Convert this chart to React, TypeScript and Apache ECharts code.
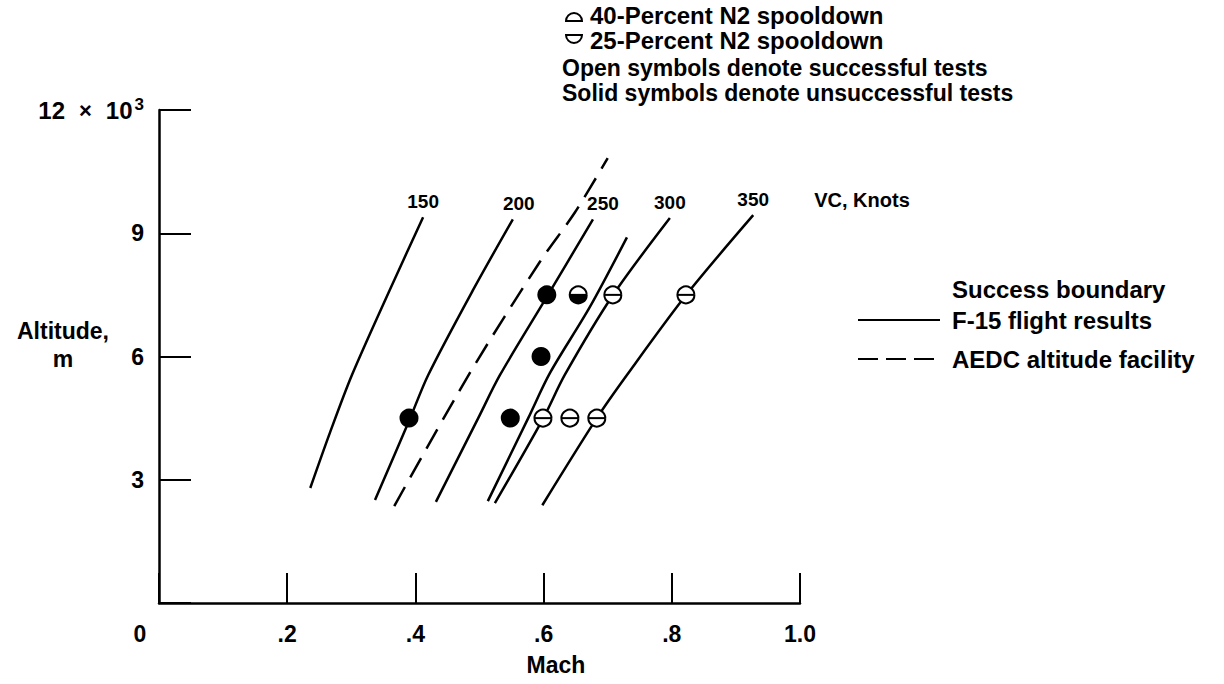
import React, { useEffect, useRef } from "react";
import * as echarts from "echarts";

// ---- data (Mach, altitude in 10^3 m) ----
const machRange = [0, 1.0];
const altRange = [0, 12];
const machInterval = 0.2;
const altInterval = 3;

const vc150 = [[0.236, 2.8], [0.267, 4.16], [0.301, 5.55], [0.36, 7.62], [0.412, 9.39]];
const vc200 = [[0.337, 2.51], [0.39, 4.43], [0.42, 5.55], [0.49, 7.62], [0.552, 9.34]];
const vc250 = [[0.432, 2.46], [0.498, 4.5], [0.532, 5.55], [0.605, 7.45], [0.677, 9.34]];
const vc300 = [[0.524, 2.43], [0.599, 4.48], [0.633, 5.55], [0.708, 7.49], [0.797, 9.37]];
const vc350 = [[0.598, 2.38], [0.683, 4.5], [0.73, 5.55], [0.822, 7.49], [0.927, 9.44]];
const vcNames = ["150", "200", "250", "300", "350"];

const f15Boundary = [[0.513, 2.48], [0.576, 4.5], [0.61, 5.6], [0.672, 7.2], [0.73, 8.9]];
const aedcBoundary = [[0.367, 2.36], [0.485, 5.6], [0.594, 8.3], [0.649, 9.51], [0.7, 10.83]];

const solidTests = [[0.39, 4.5], [0.548, 4.5], [0.596, 6.0], [0.605, 7.5]];
const openTests = [[0.599, 4.5], [0.641, 4.5], [0.683, 4.5], [0.708, 7.5], [0.822, 7.5]];
const halfTests = [[0.654, 7.5]];

const legendSymbolTexts = ["40-Percent N2 spooldown", "25-Percent N2 spooldown"];
const noteTexts = ["Open symbols denote successful tests", "Solid symbols denote unsuccessful tests"];
const boundaryTexts = ["Success boundary", "F-15 flight results", "AEDC altitude facility"];

const FONT = "Liberation Sans";
const BLACK = "#000";

function txt(text: string, x: number, y: number, size: number, align = "left") {
  return {
    type: "text",
    x,
    y,
    style: {
      text,
      fontFamily: FONT,
      fontWeight: "bold",
      fontSize: size,
      fill: BLACK,
      align,
      verticalAlign: "middle",
    },
  };
}

function curve(name: string, data: number[][], dashed = false) {
  return {
    name,
    type: "line",
    data,
    smooth: 0.3,
    showSymbol: false,
    symbol: "none",
    silent: true,
    lineStyle: { color: BLACK, width: 2.5, type: dashed ? [22, 11] : "solid" },
    z: 2,
  };
}

const labelOffsets = [[0, 0], [6, 0], [10, 0], [0, 0], [0, 0]];

export default function App() {
  const ref = useRef<HTMLDivElement>(null);
  useEffect(() => {
    const chart = echarts.init(ref.current!, null, { renderer: "svg" });
    const vcCurves = [vc150, vc200, vc250, vc300, vc350];
    const option: any = {
      animation: false,
      backgroundColor: "#fff",
      grid: { left: 159, right: 424, top: 110, bottom: 81, containLabel: false },
      xAxis: {
        type: "value",
        min: machRange[0],
        max: machRange[1],
        interval: machInterval,
        splitLine: { show: false },
        axisLine: { lineStyle: { color: BLACK, width: 2.5 } },
        axisTick: { inside: true, length: 30, lineStyle: { color: BLACK, width: 2 } },
        axisLabel: {
          color: BLACK,
          fontFamily: FONT,
          fontWeight: "bold",
          fontSize: 23,
          margin: 19,
          formatter: (v: number) => (v === 0 ? "" : Number(v).toFixed(1).replace(/^0/, "")),
        },
      },
      yAxis: {
        type: "value",
        min: altRange[0],
        max: altRange[1],
        interval: altInterval,
        splitLine: { show: false },
        axisLine: { lineStyle: { color: BLACK, width: 2.5 } },
        axisTick: { inside: true, length: 32, lineStyle: { color: BLACK, width: 2 } },
        axisLabel: {
          color: BLACK,
          fontFamily: FONT,
          fontWeight: "bold",
          fontSize: 23,
          margin: 15,
          formatter: (v: number) => (v === 0 ? "" : v === 12 ? "{a|12}{x|×}{a|10}{s|3}" : String(v)),
          rich: {
            a: { fontFamily: FONT, fontWeight: "bold", fontSize: 24, color: BLACK },
            x: { fontFamily: FONT, fontWeight: "bold", fontSize: 22, color: BLACK, padding: [0, 14, 0, 14] },
            s: { fontFamily: FONT, fontWeight: "bold", fontSize: 17, color: BLACK, verticalAlign: "top", padding: [0, 0, 12, 2] },
          },
        },
      },
      series: [
        ...vcCurves.map((d, i) => curve("VC " + vcNames[i], d)),
        curve("F-15 flight results", f15Boundary),
        curve("AEDC altitude facility", aedcBoundary, true),
        {
          name: "VC labels",
          type: "scatter",
          symbolSize: 1,
          silent: true,
          itemStyle: { color: "transparent", opacity: 1 },
          data: vcCurves.map((d, i) => ({
            value: d[d.length - 1],
            name: vcNames[i],
            label: {
              show: true,
              position: "top",
              distance: 6,
              offset: labelOffsets[i],
              formatter: "{b}",
              color: BLACK,
              opacity: 1,
              fontFamily: FONT,
              fontWeight: "bold",
              fontSize: 19,
            },
          })),
          z: 3,
        },
        {
          name: "Unsuccessful",
          type: "scatter",
          symbol: "circle",
          symbolSize: 19,
          silent: true,
          itemStyle: { color: BLACK, opacity: 1 },
          data: solidTests,
          z: 4,
        },
        {
          name: "Successful",
          type: "custom",
          silent: true,
          data: openTests,
          renderItem: (params: any, api: any) => {
            const p = api.coord([api.value(0), api.value(1)]);
            const r = 8.5;
            return {
              type: "group",
              children: [
                { type: "circle", shape: { cx: p[0], cy: p[1], r }, style: { fill: "#fff", stroke: BLACK, lineWidth: 2 } },
                { type: "line", shape: { x1: p[0] - r, y1: p[1], x2: p[0] + r, y2: p[1] }, style: { stroke: BLACK, lineWidth: 2 } },
              ],
            };
          },
          z: 4,
        },
        {
          name: "Mixed",
          type: "custom",
          silent: true,
          data: halfTests,
          renderItem: (params: any, api: any) => {
            const p = api.coord([api.value(0), api.value(1)]);
            const r = 8.5;
            return {
              type: "group",
              children: [
                { type: "circle", shape: { cx: p[0], cy: p[1], r }, style: { fill: "#fff", stroke: BLACK, lineWidth: 2 } },
                { type: "sector", shape: { cx: p[0], cy: p[1], r, r0: 0, startAngle: 0, endAngle: Math.PI, clockwise: true }, style: { fill: BLACK } },
                { type: "line", shape: { x1: p[0] - r, y1: p[1], x2: p[0] + r, y2: p[1] }, style: { stroke: BLACK, lineWidth: 2 } },
              ],
            };
          },
          z: 4,
        },
      ],
      graphic: [
        // top legend symbols
        { type: "sector", shape: { cx: 574, cy: 21, r: 8, r0: 0, startAngle: Math.PI, endAngle: 2 * Math.PI }, style: { fill: "none", stroke: BLACK, lineWidth: 2 } },
        { type: "sector", shape: { cx: 574, cy: 35, r: 8, r0: 0, startAngle: 0, endAngle: Math.PI }, style: { fill: "none", stroke: BLACK, lineWidth: 2 } },
        txt(legendSymbolTexts[0], 590, 15, 24),
        txt(legendSymbolTexts[1], 590, 40, 24),
        txt(noteTexts[0], 562, 68, 23),
        txt(noteTexts[1], 562, 93, 23),
        // right legend
        txt(boundaryTexts[0], 952, 289, 24),
        { type: "line", shape: { x1: 858, y1: 320, x2: 940, y2: 320 }, style: { stroke: BLACK, lineWidth: 2 } },
        txt(boundaryTexts[1], 952, 320, 24),
        { type: "line", shape: { x1: 858, y1: 359, x2: 940, y2: 359 }, style: { stroke: BLACK, lineWidth: 2, lineDash: [20, 8] } },
        txt(boundaryTexts[2], 952, 359, 24),
        // axis texts
        txt("VC, Knots", 862, 200, 20, "center"),
        txt("Altitude,", 63, 331, 23, "center"),
        txt("m", 63, 359, 23, "center"),
        txt("0", 140, 634, 23, "center"),
        txt("Mach", 556, 665, 23, "center"),
      ],
    };
    chart.setOption(option);
    return () => chart.dispose();
  }, []);
  return (
    <div
      ref={ref}
      style={{ position: "fixed", left: 0, top: 0, width: 1224, height: 684, background: "#fff" }}
    />
  );
}
